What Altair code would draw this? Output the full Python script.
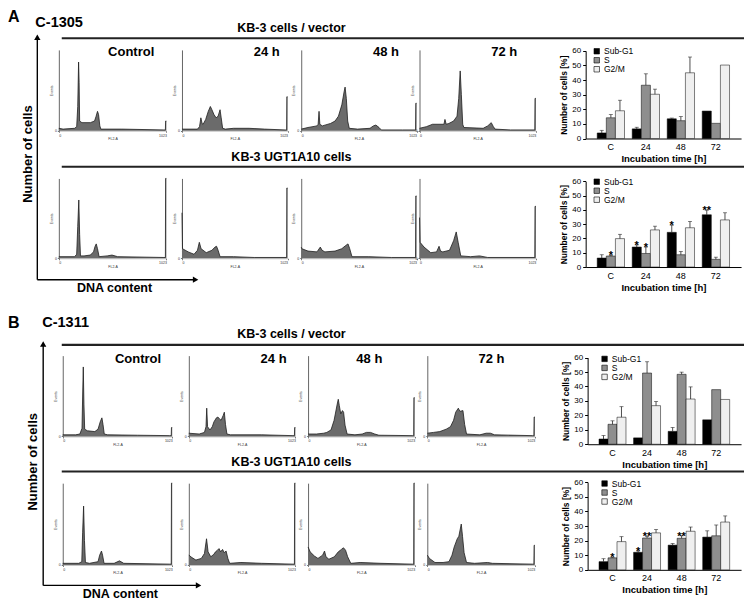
import altair as alt
import pandas as pd

# ---------------- flow cytometry histograms: (FL2-A channel, height in % of axis) ----------------
# Panel A (C-1305) - KB-3 cells / vector
a_vec_ctrl = [(0,3),(40,2),(150,3),(170,5),(180,30),(188,85),(193,60),(198,12),(220,10),(300,10),(340,12),(355,18),(368,24),(378,20),(390,6),(400,2),(600,2),(1000,1),(1014,1),(1016,12),(1023,12)]
a_vec_24 = [(0,2),(150,2),(170,5),(183,16),(195,9),(205,8),(230,14),(255,24),(275,30),(290,26),(310,20),(331,16),(350,18),(369,26),(380,16),(394,3),(420,2),(500,3),(650,3),(800,2),(1000,1),(1014,1),(1016,42),(1023,42)]
a_vec_48 = [(0,2),(60,4),(140,6),(150,8),(158,24),(165,8),(187,6),(260,9),(300,12),(330,18),(360,32),(380,48),(389,54),(400,40),(412,12),(426,3),(500,2),(610,3),(640,6),(662,7),(690,4),(710,1),(900,1),(1014,1),(1016,34),(1023,34)]
a_vec_72 = [(0,3),(60,5),(115,8),(180,8),(215,8),(224,14),(235,8),(258,9),(300,12),(330,18),(345,40),(358,74),(368,45),(380,8),(390,4),(560,3),(600,6),(631,10),(650,5),(665,2),(800,1),(1014,1),(1016,40),(1023,40)]
# Panel A (C-1305) - KB-3 UGT1A10 cells
a_ugt_ctrl = [(0,2),(150,2),(170,5),(180,40),(190,73),(198,30),(206,3),(240,3),(300,4),(330,8),(345,15),(356,18),(368,12),(383,2),(460,3),(506,4),(560,2),(1000,1),(1014,1),(1016,100),(1023,100)]
a_ugt_24 = [(0,57),(5,12),(60,8),(117,5),(150,10),(168,20),(185,12),(235,7),(290,10),(320,14),(335,15),(350,10),(369,2),(500,2),(700,1),(1014,1),(1016,88),(1023,88)]
a_ugt_48 = [(0,14),(5,12),(60,9),(140,8),(169,14),(185,10),(210,8),(300,9),(360,12),(395,16),(415,18),(430,12),(450,2),(600,2),(800,1),(1014,1),(1016,78),(1023,78)]
a_ugt_72 = [(0,51),(5,20),(40,14),(99,7),(150,8),(172,15),(185,9),(205,8),(264,10),(300,22),(323,33),(340,20),(363,3),(450,2),(528,3),(600,1),(1014,1),(1016,65),(1023,65)]
# Panel B (C-1311) - KB-3 cells / vector
b_vec_ctrl = [(0,2),(120,2),(160,3),(180,10),(186,50),(192,86),(198,40),(205,9),(230,7),(300,6),(330,9),(350,18),(366,23),(376,15),(388,3),(420,2),(700,1.5),(1000,1),(1014,1),(1016,11),(1023,11)]
b_vec_24 = [(0,4),(100,3),(150,5),(165,12),(172,35),(180,12),(203,8),(225,12),(241,18),(265,23),(279,24),(300,21),(310,20),(330,26),(341,30),(352,15),(366,3),(400,2),(700,2),(1000,1),(1014,1),(1016,11),(1023,11)]
b_vec_48 = [(0,3),(80,3),(150,4),(180,5),(220,8),(250,20),(280,40),(290,46),(300,38),(314,28),(330,32),(341,30),(355,14),(375,3),(450,2),(520,3),(560,5),(600,5),(640,3),(680,1.5),(1000,1),(1014,1),(1016,48),(1023,48)]
b_vec_72 = [(0,4),(60,5),(119,6),(180,9),(220,12),(250,20),(270,30),(295,35),(310,31),(339,32),(355,15),(373,3),(500,2),(560,4),(600,4),(640,2),(1000,1),(1014,1),(1016,24),(1023,24)]
# Panel B (C-1311) - KB-3 UGT1A10 cells
b_ugt_ctrl = [(0,2),(150,2),(178,4),(186,40),(195,72),(203,30),(212,3),(250,2),(330,4),(345,12),(362,17),(372,12),(386,2),(480,2),(530,5),(570,2),(1000,1),(1014,1),(1016,100),(1023,100)]
b_ugt_24 = [(0,12),(30,9),(68,6),(120,8),(150,14),(170,32),(185,16),(211,10),(240,13),(256,16),(275,18),(290,20),(305,16),(324,19),(340,15),(358,17),(375,8),(392,2),(500,3),(700,2),(1000,1),(1014,1),(1016,100),(1023,100)]
b_ugt_48 = [(0,22),(20,16),(60,11),(95,8),(140,12),(158,17),(172,10),(200,7),(252,10),(290,16),(320,19),(340,21),(360,18),(380,10),(410,2),(500,3),(700,2),(1000,1),(1014,1),(1016,100),(1023,100)]
b_ugt_72 = [(0,12),(20,8),(73,3),(150,3),(206,4),(235,12),(256,22),(285,32),(300,35),(323,50),(335,35),(350,15),(373,3),(450,2),(573,3),(620,2),(1000,1),(1014,1),(1016,24),(1023,24)]

time_labels = ["Control", "24 h", "48 h", "72 h"]

# ---------------- bar charts ----------------
categories = ["C", "24", "48", "72"]
phases = ["Sub-G1", "S", "G2/M"]

a_vec_subg1 = [3.8, 6.6, 13.5, 18.8]
a_vec_subg1_err = [1.8, 1.1, 0.5, 0]
a_vec_s = [14.2, 36.5, 12.2, 10.4]
a_vec_s_err = [2.2, 7.8, 2.8, 0]
a_vec_g2m = [19.0, 30.3, 45.0, 50.3]
a_vec_g2m_err = [7.2, 3.5, 10.8, 0]

a_ugt_subg1 = [6.3, 14.0, 24.3, 36.6]
a_ugt_subg1_err = [2.3, 1.5, 5.0, 3.2]
a_ugt_s = [7.7, 9.5, 8.6, 5.4]
a_ugt_s_err = [0.4, 4.5, 2.3, 1.5]
a_ugt_g2m = [19.9, 26.0, 27.5, 33.0]
a_ugt_g2m_err = [3.0, 2.6, 4.4, 5.0]
a_ugt_stars = {("C", "S"): "*", ("24", "Sub-G1"): "*", ("24", "S"): "*", ("48", "Sub-G1"): "*", ("72", "Sub-G1"): "**"}

b_vec_subg1 = [3.6, 4.4, 8.9, 16.9]
b_vec_subg1_err = [2.4, 0, 2.7, 0]
b_vec_s = [13.8, 49.3, 48.4, 37.8]
b_vec_s_err = [2.4, 7.8, 1.5, 0]
b_vec_g2m = [18.7, 26.7, 31.3, 31.0]
b_vec_g2m_err = [7.3, 2.9, 8.4, 0]

b_ugt_subg1 = [5.6, 12.0, 16.9, 22.4]
b_ugt_subg1_err = [2.0, 0.9, 1.1, 4.3]
b_ugt_s = [8.2, 21.8, 21.6, 23.3]
b_ugt_s_err = [0.3, 1.1, 1.7, 7.4]
b_ugt_g2m = [19.3, 25.3, 26.4, 32.7]
b_ugt_g2m_err = [3.4, 2.3, 2.9, 4.2]
b_ugt_stars = {("C", "S"): "*", ("24", "Sub-G1"): "*", ("24", "S"): "**", ("48", "S"): "**"}

# ---------------- layout (reference pixel -> chart pixel) ----------------
FONT = "Liberation Sans"
W = 736
SX = W / 753.0
SY = 590 / 606.0


def X(r):
    return round((r - 2) * SX, 2)


def Y(r):
    return round((r - 4) * SY, 2)


H = int(round(Y(610)))
dummy = pd.DataFrame({"d": [0]})


def rule(x, y, x2=None, y2=None, color="#000", sw=1.4):
    enc = dict(x=alt.value(x), y=alt.value(y))
    if x2 is not None:
        enc["x2"] = alt.value(x2)
    if y2 is not None:
        enc["y2"] = alt.value(y2)
    return alt.Chart(dummy).mark_rule(color=color, strokeWidth=sw).encode(**enc)


def label(text, x, y, size, weight="bold", align="center", angle=0):
    kw = dict(text=text, fontSize=size, fontWeight=weight, align=align,
              baseline="middle", font=FONT, color="#000")
    if angle:
        kw["angle"] = angle
    return alt.Chart(dummy).mark_text(**kw).encode(x=alt.value(x), y=alt.value(y))


def tri(shape, x, y, size=40):
    return alt.Chart(dummy).mark_point(shape=shape, filled=True, color="#000", opacity=1,
                                       size=size, strokeWidth=0).encode(x=alt.value(x), y=alt.value(y))


def hist(points, L, R, T, B):
    df = pd.DataFrame(points, columns=["ch", "n"])
    return alt.Chart(df).mark_area(
        color="#6b6b6b", opacity=1, interpolate="linear",
        line={"color": "#1e1e1e", "strokeWidth": 0.8}
    ).encode(
        x=alt.X("ch:Q", scale=alt.Scale(domain=[0, 1023], nice=False, zero=False, range=[X(L), X(R)]),
                axis=alt.Axis(orient="bottom", offset=Y(B) - H, values=[0, 1023], format="d",
                              labelFontSize=3.5, labelPadding=1, tickSize=1.5, tickColor="#777",
                              domainColor="#999", domainWidth=0.6, grid=False, labelFlush=True,
                              title="FL2-A", titleFontSize=3.5, titleFontWeight="normal",
                              titlePadding=0, labelColor="#333", titleColor="#333")),
        y=alt.Y("n:Q", scale=alt.Scale(domain=[0, 100], nice=False, zero=True, range=[Y(B), Y(T)]),
                axis=alt.Axis(orient="left", offset=-X(L), values=[0], labelFontSize=3.5,
                              labelPadding=1, tickSize=1.5, tickColor="#777", domainColor="#555",
                              domainWidth=0.9, grid=False, title="Events", titleFontSize=3.5,
                              titleFontWeight="normal", titlePadding=1, labelColor="#333",
                              titleColor="#333")),
    )


def bars(vals, stars, L, R, T, B, lx, ly):
    sub, s, g2, sub_e, s_e, g2_e = vals
    rows = []
    for i, c in enumerate(categories):
        for ph, v, e in (("Sub-G1", sub, sub_e), ("S", s, s_e), ("G2/M", g2, g2_e)):
            rows.append({"cat": c, "phase": ph, "val": v[i], "err": e[i],
                         "top": v[i] + e[i], "star": stars.get((c, ph), "")})
    df = pd.DataFrame(rows)
    x = alt.X("cat:N", sort=categories,
              scale=alt.Scale(paddingInner=0.22, paddingOuter=0.33, range=[X(L), X(R)]),
              axis=alt.Axis(orient="bottom", offset=Y(B) - H, title="Incubation time [h]",
                            labelAngle=0, labelFontSize=9, labelPadding=4, ticks=False,
                            domainColor="#000", titleFontSize=9.5, titleFontWeight="bold",
                            titlePadding=2, labelColor="#000", titleColor="#000"))
    xo = alt.XOffset("phase:N", sort=phases,
                     scale=alt.Scale(domain=phases, paddingInner=0, paddingOuter=0))
    y = alt.Y("val:Q", scale=alt.Scale(domain=[0, 60], nice=False, range=[Y(B), Y(T)]),
              axis=alt.Axis(orient="left", offset=-X(L), values=[0, 10, 20, 30, 40, 50, 60],
                            title="Number of cells [%]", labelFontSize=8, tickSize=3, grid=False,
                            domainColor="#000", tickColor="#000", titleFontSize=8.5,
                            titleFontWeight="bold", titlePadding=3, labelColor="#000",
                            titleColor="#000"))
    color = alt.Color("phase:N", sort=phases,
                      scale=alt.Scale(domain=phases, range=["#000000", "#8e8e8e", "#efefef"]),
                      legend=alt.Legend(title=None, orient="none", legendX=lx, legendY=ly,
                                        symbolType="square", symbolSize=30, symbolStrokeColor="#000",
                                        symbolStrokeWidth=0.6, labelFontSize=8.5, rowPadding=0,
                                        padding=0, labelOffset=3, symbolOpacity=1, labelColor="#000"))
    b = alt.Chart(df).mark_bar(stroke="#000", strokeWidth=0.5, opacity=1).encode(
        x=x, xOffset=xo, y=y, color=color)
    e = alt.Chart(df).transform_filter("datum.err > 0").mark_rule(
        color="#222", strokeWidth=0.8).encode(x=x, xOffset=xo, y="val:Q", y2="top:Q")
    cap = alt.Chart(df).transform_filter("datum.err > 0").mark_tick(
        color="#222", thickness=0.8, size=4, orient="horizontal").encode(x=x, xOffset=xo, y="top:Q")
    st = alt.Chart(df).transform_filter("datum.star != ''").mark_text(
        fontSize=11, fontWeight="bold", baseline="alphabetic", dy=4, font=FONT, color="#000").encode(
        x=x, xOffset=xo, y="top:Q", text="star:N")
    return alt.layer(b, e, cap, st)


PA = dict(letter="A", code="C-1305", letter_y=11, code_x=30, code_y=17, title_y=22,
          line1_y=33, arrow_top=30, vline_x=32, nlabel_x=22, nlabel_y=152,
          r1=(45, 128), r2=(177, 259), bar1=(46, 136), bar2=(180, 268),
          title2_y=155, line2_y=165, harrow_y=281, harrow_x2=197, dna_x=111, dna_y=290,
          lefts=[54, 180, 302, 423], rights=[164, 288, 420, 542], bar_lr=(593, 752),
          lab_pos=[(128, "center"), (280, "right"), (402, "right"), (523, "right")], lab_y=47,
          leg=(600, 42))
PB = dict(letter="B", code="C-1311", letter_y=325, code_x=37, code_y=325, title_y=337,
          line1_y=348, arrow_top=345, vline_x=38, nlabel_x=28, nlabel_y=468,
          r1=(359, 442), r2=(490, 574), bar1=(361, 450), bar2=(489, 579),
          title2_y=468, line2_y=478, harrow_y=595, harrow_x2=200, dna_x=117, dna_y=604,
          lefts=[58, 187, 309, 431], rights=[170, 296, 418, 541], bar_lr=(595, 752),
          lab_pos=[(135, "center"), (287, "right"), (385, "right"), (510, "right")], lab_y=362,
          leg=(608, 358))


def panel(P, vec_curves, ugt_curves, vec_bars, ugt_bars, vec_stars, ugt_stars):
    layers = []
    vx = X(P["vline_x"])
    # letter, code, headers and separator lines
    layers.append(label(P["letter"], X(2), Y(P["letter_y"]), 16, align="left"))
    layers.append(label(P["code"], X(P["code_x"]), Y(P["code_y"]), 14.5, align="left"))
    layers.append(label("KB-3 cells / vector", X(292), Y(P["title_y"]), 12.5))
    layers.append(rule(X(57), Y(P["line1_y"]), x2=W, color="#222", sw=2.2))
    layers.append(label("KB-3 UGT1A10 cells", X(292), Y(P["title2_y"]), 12.5))
    layers.append(rule(X(57), Y(P["line2_y"]), x2=W, color="#222", sw=2.2))
    # axes arrows
    ay = Y(P["harrow_y"])
    layers.append(rule(vx, Y(P["arrow_top"]) + 3, y2=ay))
    layers.append(tri("triangle-up", vx, Y(P["arrow_top"]) + 2))
    layers.append(rule(vx, ay, x2=X(P["harrow_x2"]) - 3))
    layers.append(tri("triangle-right", X(P["harrow_x2"]) - 3, ay))
    layers.append(label("Number of cells", X(P["nlabel_x"]), Y(P["nlabel_y"]), 13, angle=270))
    layers.append(label("DNA content", X(P["dna_x"]), Y(P["dna_y"]), 12.5))
    # histograms
    for k in range(4):
        L, R = P["lefts"][k], P["rights"][k]
        layers.append(hist(vec_curves[k], L, R, *P["r1"]))
        layers.append(hist(ugt_curves[k], L, R, *P["r2"]))
        lx, al = P["lab_pos"][k]
        layers.append(label(time_labels[k], X(lx), Y(P["lab_y"]), 13, align=al))
    # bar charts
    bl, br = P["bar_lr"]
    legx = X(P["leg"][0])
    layers.append(bars(vec_bars, vec_stars, bl, br, *P["bar1"], legx, Y(P["leg"][1])))
    layers.append(bars(ugt_bars, ugt_stars, bl, br, *P["bar2"], legx,
                       Y(P["leg"][1] + P["bar2"][0] - P["bar1"][0])))
    return layers


layers_a = panel(PA,
                 [a_vec_ctrl, a_vec_24, a_vec_48, a_vec_72],
                 [a_ugt_ctrl, a_ugt_24, a_ugt_48, a_ugt_72],
                 (a_vec_subg1, a_vec_s, a_vec_g2m, a_vec_subg1_err, a_vec_s_err, a_vec_g2m_err),
                 (a_ugt_subg1, a_ugt_s, a_ugt_g2m, a_ugt_subg1_err, a_ugt_s_err, a_ugt_g2m_err),
                 {}, a_ugt_stars)
layers_b = panel(PB,
                 [b_vec_ctrl, b_vec_24, b_vec_48, b_vec_72],
                 [b_ugt_ctrl, b_ugt_24, b_ugt_48, b_ugt_72],
                 (b_vec_subg1, b_vec_s, b_vec_g2m, b_vec_subg1_err, b_vec_s_err, b_vec_g2m_err),
                 (b_ugt_subg1, b_ugt_s, b_ugt_g2m, b_ugt_subg1_err, b_ugt_s_err, b_ugt_g2m_err),
                 {}, b_ugt_stars)

chart = alt.layer(*layers_a, *layers_b).resolve_scale(
    x="independent", y="independent", color="independent", xOffset="independent"
).resolve_axis(x="independent", y="independent").resolve_legend(color="independent").properties(
    width=W, height=H, padding=0
).configure(font=FONT).configure_view(strokeWidth=0).configure_axis(
    labelFont=FONT, titleFont=FONT
).configure_legend(labelFont=FONT)

chart.save("out.html", embed_options={"renderer": "svg", "actions": False})
